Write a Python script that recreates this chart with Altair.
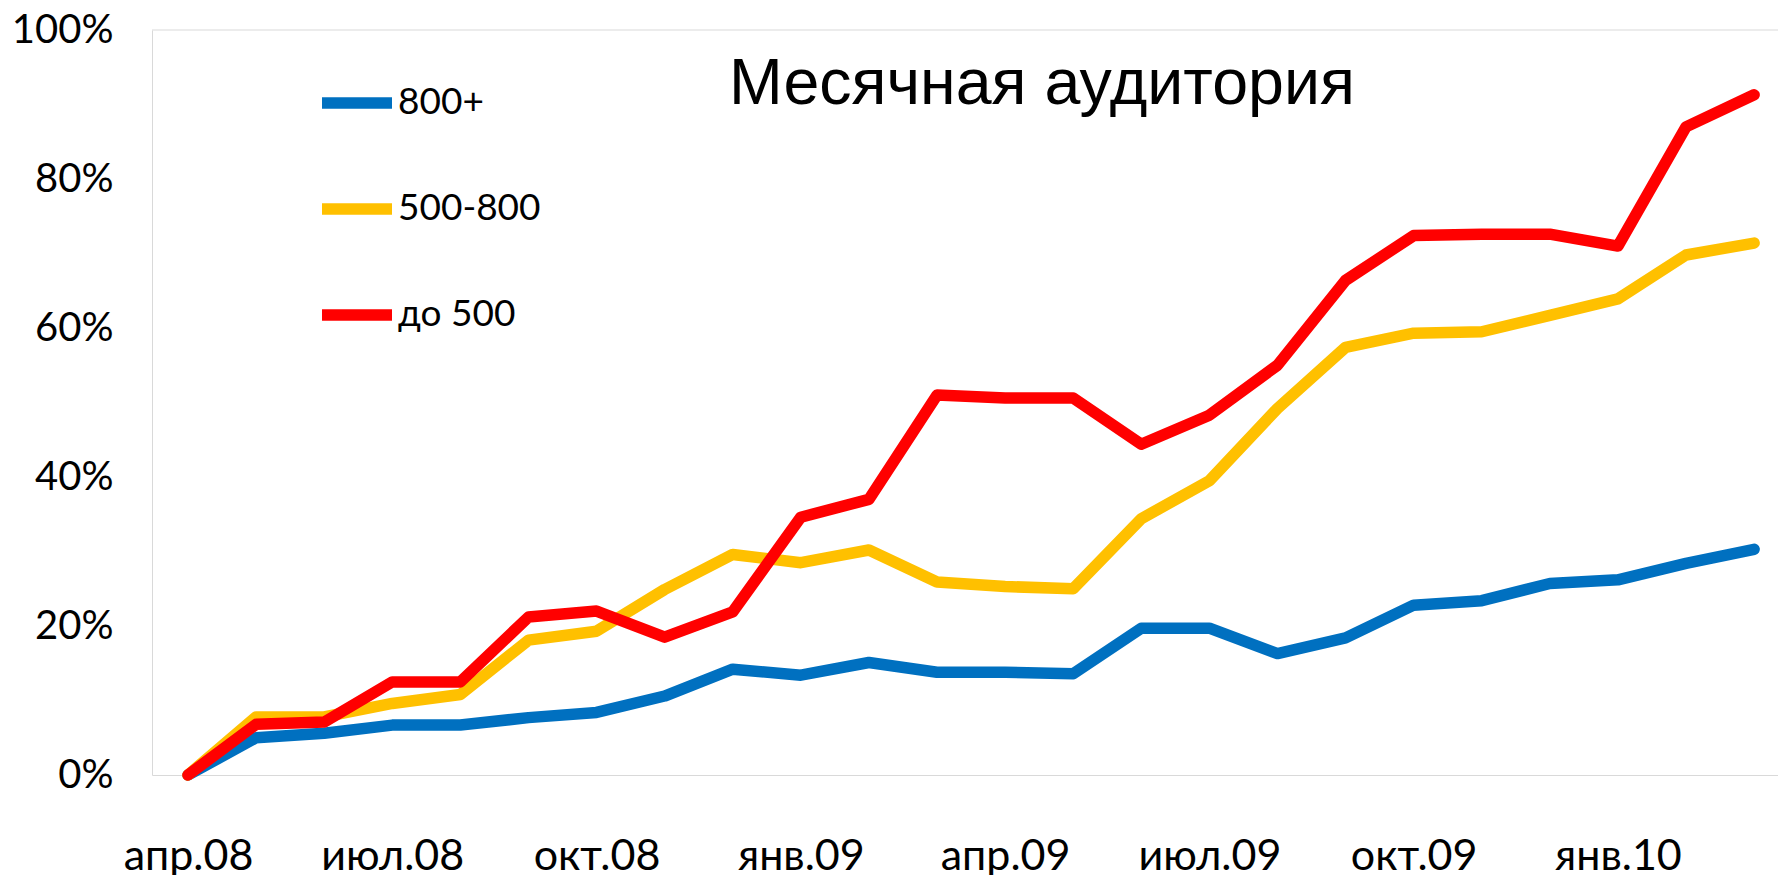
import altair as alt
import pandas as pd

# ---- data ----
months = ["апр.08", "май.08", "июн.08", "июл.08", "авг.08", "сен.08", "окт.08", "ноя.08",
          "дек.08", "янв.09", "фев.09", "мар.09", "апр.09", "май.09", "июн.09", "июл.09",
          "авг.09", "сен.09", "окт.09", "ноя.09", "дек.09", "янв.10", "фев.10", "мар.10"]
series_names = ["800+", "500-800", "до 500"]
series_colors = ["#0070C0", "#FFC000", "#FF0000"]

blue = [0, 5.0, 5.6, 6.7, 6.7, 7.7, 8.4, 10.6, 14.2, 13.4, 15.1, 13.8,
        13.8, 13.6, 19.7, 19.7, 16.3, 18.4, 22.8, 23.4, 25.7, 26.2, 28.4, 30.3]
yellow = [0, 7.8, 7.8, 9.6, 10.8, 18.1, 19.3, 24.9, 29.6, 28.5, 30.2, 25.9,
          25.3, 25.0, 34.4, 39.5, 49.2, 57.4, 59.3, 59.5, 61.7, 63.9, 69.8, 71.4]
red = [0, 6.8, 7.1, 12.5, 12.5, 21.2, 22.0, 18.5, 21.9, 34.6, 37.0, 51.0,
       50.6, 50.6, 44.4, 48.3, 55.0, 66.4, 72.4, 72.6, 72.6, 71.0, 87.0, 91.3]

y_ticks = [0, 20, 40, 60, 80, 100]
x_tick_idx = [0, 3, 6, 9, 12, 15, 18, 21]
title_text = "Месячная аудитория"

rows = []
for name, vals in zip(series_names, [blue, yellow, red]):
    for i, v in enumerate(vals):
        rows.append({"idx": i, "month": months[i], "series": name, "value": v})
df = pd.DataFrame(rows)

W, H = 1626, 745
label_expr = "[" + ",".join("'%s'" % m for m in months) + "][datum.value]"

lines = alt.Chart(df).mark_line(strokeWidth=11.5, strokeCap="round", strokeJoin="round").encode(
    x=alt.X("idx:Q",
            scale=alt.Scale(domain=[-0.5287, 23.351], nice=False, zero=False),
            axis=alt.Axis(values=x_tick_idx, labelExpr=label_expr, title=None, grid=False,
                          ticks=False, tickSize=0, labelPadding=94, labelBaseline="alphabetic",
                          labelFontSize=43, labelFont="Lato", labelColor="black",
                          domainColor="#d9d9d9", domainWidth=1, labelFlush=False,
                          labelOverlap=False)),
    y=alt.Y("value:Q",
            scale=alt.Scale(domain=[0, 100], nice=False),
            axis=alt.Axis(values=y_ticks, labelExpr="datum.value + '%'", title=None, grid=False,
                          ticks=False, tickSize=0, labelPadding=39, labelFontSize=40,
                          labelFont="Lato", labelColor="black", domainColor="#d9d9d9",
                          domainWidth=1, labelFlush=False, labelOverlap=False)),
    color=alt.Color("series:N",
                    scale=alt.Scale(domain=series_names, range=series_colors),
                    legend=alt.Legend(orient="none", legendX=164, legendY=32, title=None,
                                      symbolType="stroke", symbolSize=4900,
                                      symbolStrokeWidth=11.5, labelFontSize=37,
                                      labelFont="Lato", labelColor="black", labelOffset=0,
                                      rowPadding=42, padding=0, direction="vertical")),
)

top_rule = alt.Chart(pd.DataFrame({"a": [0]})).mark_rule(color="#d9d9d9", strokeWidth=1).encode(
    x=alt.value(0), x2=alt.value(W), y=alt.value(0)
)

title = alt.Chart(pd.DataFrame({"t": [title_text]})).mark_text(
    align="left", baseline="alphabetic", font="Liberation Sans", fontSize=64.5, color="black"
).encode(text="t:N", x=alt.value(577), y=alt.value(74))

chart = alt.layer(top_rule, lines, title).properties(
    width=W, height=H,
    autosize=alt.AutoSizeParams(type="none"),
    padding={"left": 144, "top": 22, "right": 0, "bottom": 100},
    background="white",
).configure_view(stroke="transparent")

chart.save("out.html", embed_options={"renderer": "svg", "actions": False})
